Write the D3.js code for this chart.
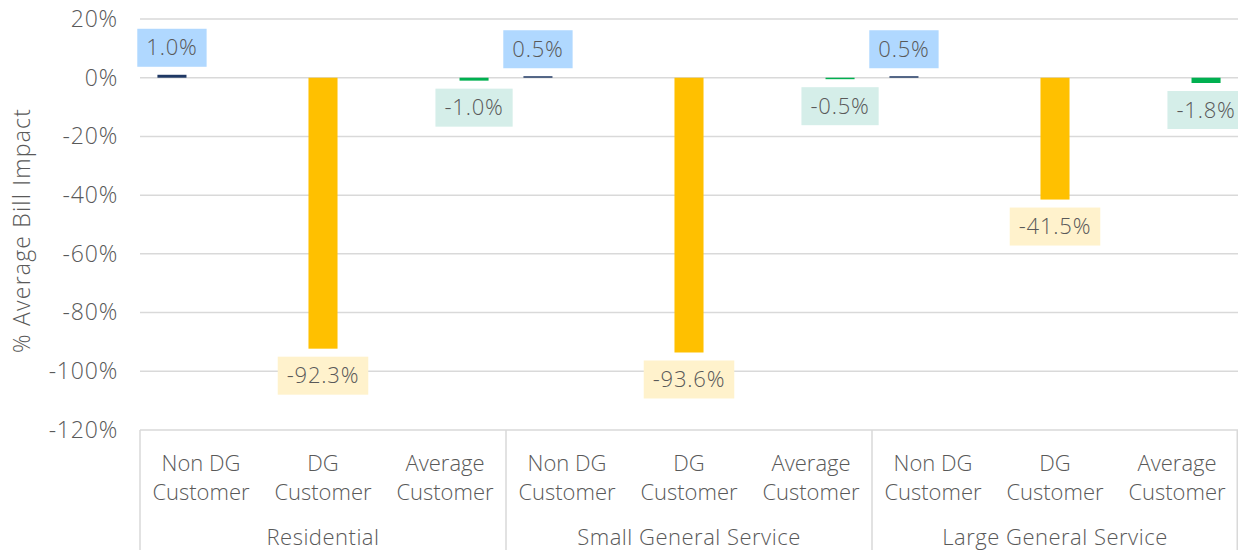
<!DOCTYPE html>
<html>
<head>
<meta charset="utf-8">
<script src="https://cdn.jsdelivr.net/npm/d3@7"></script>
<style>
  body { margin: 0; background: #fff; }
  svg text { font-family: "Open Sans", Roboto, sans-serif; font-weight: 300; fill: #595959; }
</style>
</head>
<body>
<svg id="chart"></svg>
<script>
// chart data
const groups = ["Residential", "Small General Service", "Large General Service"];
const series = ["Non DG Customer", "DG Customer", "Average Customer"];
const seriesLines = [["Non DG", "Customer"], ["DG", "Customer"], ["Average", "Customer"]];
const residential = [1.0, -92.3, -1.0];
const smallGeneral = [0.5, -93.6, -0.5];
const largeGeneral = [0.5, -41.5, -1.8];
const yTicks = [20, 0, -20, -40, -60, -80, -100, -120];

const barColors = ["#1F3864", "#FFC000", "#00B050"];
const labelFills = ["#B0D8FF", "#FFF2CC", "#D5EEE9"];

function drawChart() {
  const width = 1238, height = 550;
  const margin = { top: 19, right: 0, bottom: 120, left: 140 };

  const svg = d3.select("#chart")
    .attr("width", width)
    .attr("height", height);

  const rows = [residential, smallGeneral, largeGeneral];
  const data = [];
  groups.forEach((g, gi) => {
    series.forEach((s, si) => {
      data.push({ key: g + "|" + s, group: g, series: s, si: si, value: rows[gi][si] });
    });
  });

  const x0 = d3.scaleBand()
    .domain(data.map(d => d.key))
    .range([margin.left, width - margin.right]);

  const x1 = d3.scaleBand()
    .domain(series)
    .range([0, x0.bandwidth()])
    .paddingOuter(0.6);

  const xGroup = d3.scaleBand()
    .domain(groups)
    .range([margin.left, width - margin.right]);

  const y = d3.scaleLinear()
    .domain([-120, 20])
    .range([height - margin.bottom, margin.top]);

  // gridlines
  svg.append("g")
    .selectAll("line")
    .data(yTicks)
    .enter()
    .append("line")
    .attr("x1", margin.left)
    .attr("x2", width - margin.right)
    .attr("y1", d => y(d))
    .attr("y2", d => y(d))
    .attr("stroke", "#D9D9D9")
    .attr("stroke-width", 1.5);

  // y axis labels
  const yAxis = svg.append("g")
    .attr("transform", `translate(${margin.left - 22},0)`)
    .call(d3.axisLeft(y).tickValues(yTicks).tickSize(0).tickPadding(0).tickFormat(d => d + "%"));
  yAxis.select(".domain").remove();
  yAxis.selectAll("text")
    .style("font-size", "23px")
    .style("letter-spacing", "0.8px")
    .attr("fill", "#595959");

  svg.append("text")
    .attr("transform", `translate(30,${y(-52)}) rotate(-90)`)
    .attr("text-anchor", "middle")
    .style("font-size", "23px")
    .style("letter-spacing", "1.2px")
    .text("% Average Bill Impact");

  // category box lines
  const axisY = y(-120);
  const bounds = groups.map(g => xGroup(g)).concat([width - margin.right - 0.75]);
  svg.append("g")
    .selectAll("line")
    .data(bounds)
    .enter()
    .append("line")
    .attr("x1", d => d)
    .attr("x2", d => d)
    .attr("y1", axisY)
    .attr("y2", height)
    .attr("stroke", "#D9D9D9")
    .attr("stroke-width", 1.5);

  // category labels
  const catLabel = svg.append("g")
    .selectAll("text")
    .data(data)
    .enter()
    .append("text")
    .attr("text-anchor", "middle")
    .attr("x", d => x0(d.key) + x0.bandwidth() / 2)
    .attr("y", axisY + 41)
    .style("font-size", "22px");
  catLabel.selectAll("tspan")
    .data(d => seriesLines[d.si].map(t => ({ t: t, x: x0(d.key) + x0.bandwidth() / 2 })))
    .enter()
    .append("tspan")
    .attr("x", d => d.x)
    .attr("dy", (d, i) => i === 0 ? 0 : 29)
    .text(d => d.t);

  svg.append("g")
    .selectAll("text")
    .data(groups)
    .enter()
    .append("text")
    .attr("text-anchor", "middle")
    .attr("x", d => xGroup(d) + xGroup.bandwidth() / 2)
    .attr("y", axisY + 115)
    .style("font-size", "22px")
    .style("letter-spacing", "0.5px")
    .text(d => d);

  // bars
  svg.append("g")
    .selectAll("rect")
    .data(data)
    .enter()
    .append("rect")
    .attr("x", d => x0(d.key) + x1(d.series))
    .attr("width", x1.bandwidth())
    .attr("y", d => Math.min(y(d.value), y(0)))
    .attr("height", d => Math.abs(y(d.value) - y(0)))
    .attr("fill", d => barColors[d.si]);

  // data labels
  const boxH = 38, gap = 8, padX = 9;
  const labels = svg.append("g")
    .selectAll("g")
    .data(data)
    .enter()
    .append("g");

  labels.append("text")
    .attr("text-anchor", "middle")
    .attr("x", d => x0(d.key) + x1(d.series) + x1.bandwidth() / 2)
    .attr("y", d => d.value >= 0 ? y(d.value) - gap - boxH / 2 : y(d.value) + gap + boxH / 2)
    .attr("dy", "0.35em")
    .style("font-size", "22px")
    .style("letter-spacing", "0.8px")
    .text(d => d.value.toFixed(1) + "%");

  labels.each(function (d) {
    const g = d3.select(this);
    const bb = g.select("text").node().getBBox();
    const cy = d.value >= 0 ? y(d.value) - gap - boxH / 2 : y(d.value) + gap + boxH / 2;
    g.insert("rect", "text")
      .attr("x", bb.x - padX)
      .attr("width", bb.width + padX * 2)
      .attr("y", cy - boxH / 2)
      .attr("height", boxH)
      .attr("fill", labelFills[d.si]);
  });
}

drawChart();
</script>
</body>
</html>
